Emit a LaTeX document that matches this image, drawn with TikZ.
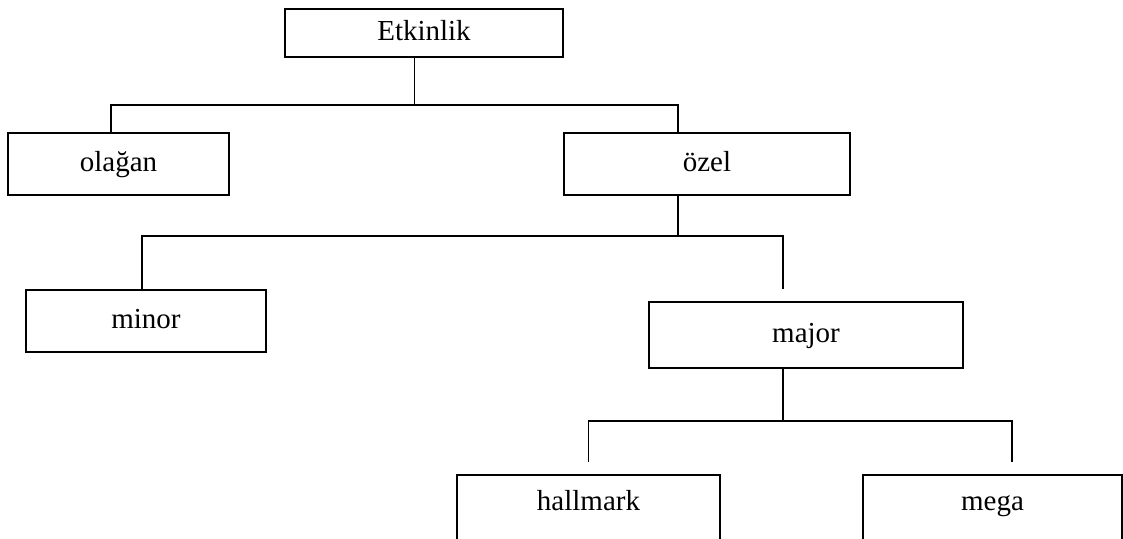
\documentclass[tikz,border=0pt]{standalone}
\usepackage{fontspec}
\setmainfont{Liberation Serif}
\usetikzlibrary{calc}
\usetikzlibrary{positioning}

\begin{document}
\begin{tikzpicture}[
    box/.style={draw, line width=1.1pt, inner sep=0pt, text height=0.4cm, text depth=0.1cm,
                font=\fontsize{16.5}{20}\selectfont},
    openbox/.style={box, minimum height=1.4cm, anchor=north, text height=0.57cm, text depth=0.53cm},
    link/.style={line width=1.1pt}
]
            \useasboundingbox (0,0) rectangle (22.46,-10.78);

            % Top of the tree
            \node[box, minimum width=5.56cm, minimum height=0.96cm] (etkinlik) at (8.48,-0.66) {Etkinlik};

            % First level
            \node[box, minimum width=4.42cm, minimum height=1.24cm] (olagan) at (2.37,-3.28) {olağan};
            \node[box, minimum width=5.72cm, minimum height=1.24cm] (ozel) at (14.14,-3.28) {özel};

            % Second level
            \node[box, minimum width=4.8cm, minimum height=1.24cm] (minor) at (2.92,-6.42) {minor};
            \node[box, minimum width=6.28cm, minimum height=1.32cm] (major) at (16.12,-6.70) {major};

            % Third level (cut by the page edge)
            \node[openbox, minimum width=5.26cm] (hallmark) at (11.77,-9.48) {hallmark};
            \node[openbox, minimum width=5.18cm] (mega) at (19.85,-9.48) {mega};

            % Etkinlik to olağan and özel
            \coordinate (j1) at (8.29,-2.1);
            \draw[link] (etkinlik.south -| j1) -- (j1);
            \draw[link] ([xshift=-0.15cm]olagan.north) |- (j1) -| ([xshift=-0.58cm]ozel.north);

            % özel to minor and major
            \draw[link] ([xshift=-0.58cm]ozel.south) -- ++(0,-0.8) coordinate (j2);
            \coordinate (majtop) at ([xshift=-0.46cm,yshift=0.24cm]major.north);
            \draw[link] ([xshift=-0.08cm]minor.north) |- (j2) -| (majtop);

            % major to hallmark and mega
            \draw[link] ([xshift=-0.46cm]major.south) -- ++(0,-1.04) coordinate (j3);
            \draw[link] ([yshift=0.24cm]hallmark.north) |- (j3) -| ([xshift=0.39cm,yshift=0.24cm]mega.north);

\end{tikzpicture}
\end{document}
